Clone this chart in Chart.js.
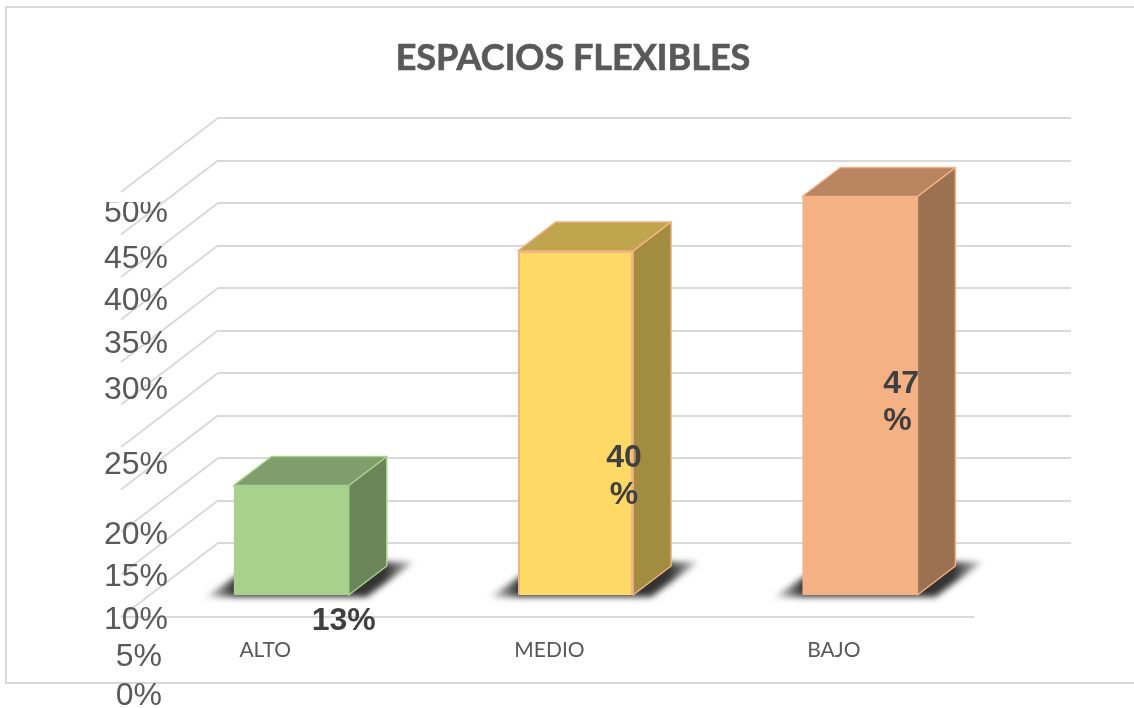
<!DOCTYPE html>
<html>
<head>
<meta charset="utf-8">
<title>Espacios flexibles</title>
<script src="https://cdn.jsdelivr.net/npm/chart.js@4/dist/chart.umd.min.js"></script>
<style>
  html, body { margin: 0; padding: 0; background: #fff; overflow: hidden; }
  canvas { display: block; }
</style>
</head>
<body>
<canvas id="chart" width="1134" height="708"></canvas>
<script>
const chartTitle = 'ESPACIOS FLEXIBLES';
const categories = ['ALTO', 'MEDIO', 'BAJO'];
// the MEDIO bar stands a little taller than its printed 40% in the source
const barValues = [13, 40.6, 47];
const barLabels = [['13%'], ['40', '%'], ['47', '%']];
const yTickLabels = ['0%', '5%', '10%', '15%', '20%', '25%', '30%', '35%', '40%', '45%', '50%'];

const frontColors = ['#A9D18E', '#FFD966', '#F4B183'];
const topColors = ['#7F9E6B', '#BFA54D', '#B98561'];
const sideColors = ['#6B8559', '#A28C40', '#9C7152'];
const edgeColors = ['#A9D18E', '#F4B183', '#F4B183'];

// the y tick labels do not sit on their gridlines in the source, so each gets a nudge
const yLabelNudge = [79, 82.5, 88, 87.5, 88, 60.5, 28, 24.5, 24, 24.5, 21];
const labelNudgeX = [52.5, 48.5, 23.5];
const labelNudgeY = [144, 216, 196];
const labelAlign = ['center', 'center', 'left'];

const GREY = '#D9D9D9';
const TEXT = '#595959';
const FLOOR = { dx: -97, dy: 74 };   // back wall to front edge of the floor
const BAR_FRONT = { dx: -69, dy: 53 };  // back wall to front face of a bar
const BAR_DEPTH = { dx: 38, dy: -29 };

function poly(ctx, pts) {
  ctx.beginPath();
  pts.forEach((p, i) => (i ? ctx.lineTo(p[0], p[1]) : ctx.moveTo(p[0], p[1])));
  ctx.closePath();
}

const scene3d = {
  id: 'scene3d',
  beforeDraw(chart) {
    const { ctx } = chart;
    ctx.save();
    ctx.strokeStyle = GREY;
    ctx.lineWidth = 2;
    ctx.beginPath();
    ctx.moveTo(1134, 7);
    ctx.lineTo(6, 7);
    ctx.lineTo(6, 683);
    ctx.lineTo(1134, 683);
    ctx.stroke();
    ctx.restore();
  },
  beforeDatasetsDraw(chart) {
    const { ctx, scales, chartArea } = chart;
    const y = scales.y;

    // wall to floor lines, and the front edge of the floor
    ctx.save();
    ctx.strokeStyle = GREY;
    ctx.lineWidth = 2;
    y.ticks.forEach(t => {
      const py = y.getPixelForValue(t.value);
      ctx.beginPath();
      ctx.moveTo(chartArea.left, py);
      ctx.lineTo(chartArea.left + FLOOR.dx, py + FLOOR.dy);
      ctx.stroke();
    });
    ctx.beginPath();
    ctx.moveTo(chartArea.left + FLOOR.dx, chartArea.bottom + FLOOR.dy);
    ctx.lineTo(chartArea.right + FLOOR.dx, chartArea.bottom + FLOOR.dy);
    ctx.stroke();
    ctx.restore();

    const bars = chart.getDatasetMeta(0).data;
    // soft shadows on the floor, fading towards both tips
    bars.forEach(bar => {
      const l = bar.x - bar.width / 2 + BAR_FRONT.dx;
      const r = bar.x + bar.width / 2 + BAR_FRONT.dx;
      const b = bar.base + BAR_FRONT.dy;
      const fade = ctx.createLinearGradient(l - 28, 0, r + BAR_DEPTH.dx + 27, 0);
      fade.addColorStop(0, 'rgba(51,51,51,0.15)');
      fade.addColorStop(0.14, 'rgba(51,51,51,1)');
      fade.addColorStop(0.86, 'rgba(51,51,51,1)');
      fade.addColorStop(1, 'rgba(51,51,51,0.25)');
      ctx.save();
      ctx.filter = 'blur(3px)';
      ctx.fillStyle = fade;
      poly(ctx, [
        [l - 28, b + 2],
        [r + 18, b + 2],
        [r + BAR_DEPTH.dx + 27, b + BAR_DEPTH.dy - 4],
        [l + BAR_DEPTH.dx - 14, b + BAR_DEPTH.dy - 4]
      ]);
      ctx.fill();
      ctx.restore();
    });

    // top and side faces, the front face is the native bar
    bars.forEach((bar, i) => {
      const l = bar.x - bar.width / 2 + BAR_FRONT.dx;
      const r = bar.x + bar.width / 2 + BAR_FRONT.dx;
      const t = bar.y + BAR_FRONT.dy;
      const b = bar.base + BAR_FRONT.dy;
      const d = BAR_DEPTH;
      ctx.save();
      // backing so the shadow does not show through the bar's soft edges
      ctx.fillStyle = frontColors[i];
      ctx.fillRect(l + 1, t + 1, r - l - 2, b - t - 2);
      ctx.lineWidth = 1.5;
      ctx.lineJoin = 'round';
      ctx.strokeStyle = edgeColors[i];
      ctx.fillStyle = sideColors[i];
      poly(ctx, [[r, t], [r + d.dx, t + d.dy], [r + d.dx, b + d.dy], [r, b]]);
      ctx.fill();
      ctx.stroke();
      ctx.fillStyle = topColors[i];
      poly(ctx, [[l, t], [l + d.dx, t + d.dy], [r + d.dx, t + d.dy], [r, t]]);
      ctx.fill();
      ctx.stroke();
      ctx.restore();
    });

    ctx.save();
    ctx.translate(BAR_FRONT.dx, BAR_FRONT.dy);
  },
  afterDatasetsDraw(chart) {
    chart.ctx.restore();
  },
  afterDraw(chart) {
    const { ctx, scales } = chart;
    const y = scales.y;

    ctx.save();
    ctx.fillStyle = TEXT;
    ctx.strokeStyle = TEXT;
    ctx.lineWidth = 0.7;
    ctx.font = 'bold 36px Lato';
    ctx.textAlign = 'center';
    ctx.textBaseline = 'alphabetic';
    ctx.fillText(chartTitle, 573, 70);
    ctx.strokeText(chartTitle, 573, 70);
    ctx.restore();

    // y tick labels, the top one is cut off in the source
    yTickLabels.forEach((label, i) => {
      const py = y.getPixelForValue(i * 5) + FLOOR.dy + yLabelNudge[i];
      ctx.save();
      if (i === yTickLabels.length - 1) {
        ctx.beginPath();
        ctx.rect(90, 202, 100, 30);
        ctx.clip();
      }
      ctx.fillStyle = TEXT;
      ctx.font = '32px "Liberation Sans"';
      ctx.textAlign = 'right';
      ctx.textBaseline = 'middle';
      ctx.fillText(label, label.length === 2 ? 162 : 168, py);
      ctx.restore();
    });

    // value labels
    chart.getDatasetMeta(0).data.forEach((bar, i) => {
      ctx.save();
      ctx.fillStyle = '#404040';
      ctx.font = 'bold 32px "Liberation Sans"';
      ctx.textAlign = labelAlign[i];
      ctx.textBaseline = 'alphabetic';
      barLabels[i].forEach((line, n) => {
        ctx.fillText(line, bar.x + BAR_FRONT.dx + labelNudgeX[i],
          bar.y + BAR_FRONT.dy + labelNudgeY[i] + n * 37.5);
      });
      ctx.restore();
    });
  }
};

new Chart(document.getElementById('chart'), {
  type: 'bar',
  data: {
    labels: categories,
    datasets: [{
      data: barValues,
      backgroundColor: frontColors,
      borderColor: edgeColors,
      borderWidth: 2,
      categoryPercentage: 1,
      barPercentage: 0.405,
      clip: false
    }]
  },
  options: {
    responsive: false,
    animation: false,
    events: [],
    layout: { padding: { left: 218, right: 63, top: 118, bottom: 45 } },
    plugins: { legend: { display: false }, title: { display: false }, tooltip: { enabled: false } },
    scales: {
      x: {
        grid: { display: false },
        border: { display: false },
        ticks: {
          color: TEXT,
          font: { family: 'Lato', size: 21 },
          padding: 87,
          labelOffset: -95,
          maxRotation: 0
        },
        afterFit: s => { s.height = 120; }
      },
      y: {
        min: 0,
        max: 50,
        grid: { color: GREY, lineWidth: 2, drawTicks: false },
        border: { display: false },
        ticks: { display: false, stepSize: 5 },
        afterFit: s => { s.width = 0; }
      }
    }
  },
  plugins: [scene3d]
});
</script>
</body>
</html>
